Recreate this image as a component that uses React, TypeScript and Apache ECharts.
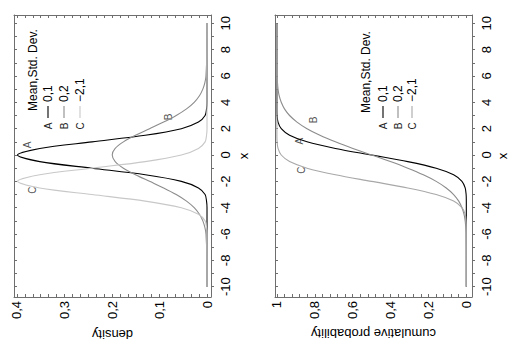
import React, { useEffect, useRef } from 'react';
import * as echarts from 'echarts';

// x positions at which the curves were read
const xValues = [-10, -8, -6, -5.5, -5, -4.5, -4, -3.5, -3, -2.5, -2, -1.5, -1, -0.5, 0, 0.5, 1, 1.5, 2, 2.5, 3, 3.5, 4, 4.5, 5, 5.5, 6, 8, 10];

// density readings: A (0,1), B (0,2), C (-2,1)
const densityA = [0, 0, 0, 0, 0, 0, 0, 0.001, 0.004, 0.018, 0.054, 0.13, 0.242, 0.352, 0.399, 0.352, 0.242, 0.13, 0.054, 0.018, 0.004, 0.001, 0, 0, 0, 0, 0, 0, 0];
const densityB = [0, 0.0001, 0.0022, 0.0045, 0.0088, 0.0159, 0.027, 0.0431, 0.0648, 0.0913, 0.121, 0.1506, 0.176, 0.1933, 0.1995, 0.1933, 0.176, 0.1506, 0.121, 0.0913, 0.0648, 0.0431, 0.027, 0.0159, 0.0088, 0.0045, 0.0022, 0.0001, 0];
const densityC = [0, 0, 0, 0.001, 0.004, 0.018, 0.054, 0.13, 0.242, 0.352, 0.399, 0.352, 0.242, 0.13, 0.054, 0.018, 0.004, 0.001, 0, 0, 0, 0, 0, 0, 0, 0, 0, 0, 0];

// cumulative probability readings
const cumulativeA = [0, 0, 0, 0, 0, 0, 0, 0, 0.001, 0.006, 0.023, 0.067, 0.159, 0.309, 0.5, 0.691, 0.841, 0.933, 0.977, 0.994, 0.999, 1, 1, 1, 1, 1, 1, 1, 1];
const cumulativeB = [0, 0, 0.001, 0.003, 0.006, 0.012, 0.023, 0.04, 0.067, 0.106, 0.159, 0.227, 0.309, 0.401, 0.5, 0.599, 0.691, 0.773, 0.841, 0.894, 0.933, 0.96, 0.977, 0.988, 0.994, 0.997, 0.999, 1, 1];
const cumulativeC = [0, 0, 0, 0, 0.001, 0.006, 0.023, 0.067, 0.159, 0.309, 0.5, 0.691, 0.841, 0.933, 0.977, 0.994, 0.999, 1, 1, 1, 1, 1, 1, 1, 1, 1, 1, 1, 1];

// tick labels
const xTickLabels = [-10, -8, -6, -4, -2, 0, 2, 4, 6, 8, 10];
const densityTickLabels = [0, 0.1, 0.2, 0.3, 0.4];
const cumulativeTickLabels = [0, 0.2, 0.4, 0.6, 0.8, 1];

// legend
const legendTitle = 'Mean,Std. Dev.';
const seriesLetters = ['A', 'B', 'C'];
const seriesParams = ['0,1', '0,2', '\u22122,1'];

// letter label positions [value, x]
const densityLetterPos = [[0.377, 0.76], [0.082, 2.89], [0.368, -2.66]];
const cumulativeLetterPos = [[0.88, 1.06], [0.807, 2.66], [0.87, -1.14]];

const FONT = 'Liberation Sans, Arial, sans-serif';
const AXIS_COLOR = '#6e6e6e';
const densityColors = ['#000000', '#8c8c8c', '#c8c8c8'];
const cumulativeColors = ['#000000', '#8c8c8c', '#a8a8a8'];

const range = (start: number, end: number, step: number) => {
  const out: number[] = [];
  for (let v = start; v <= end + 1e-9; v += step) out.push(Math.round(v * 10000) / 10000);
  return out;
};
const xMinorTicks = range(-10, 10, 1);
const densityMinorTicks = range(0, 0.4, 1 / 60);
const cumulativeMinorTicks = range(0, 1, 0.04);

const fmtComma = (v: number) => {
  if (v === 0) return '0';
  if (v === 1) return '1';
  return String(+v.toFixed(1)).replace('.', ',');
};

function valueAxisBottom(gridIndex: number, min: number, max: number, labels: number[], ticks: number[], name: string, nameGap: number) {
  return {
    gridIndex, type: 'value', position: 'bottom', inverse: true, min, max,
    axisLine: { show: true, onZero: false, lineStyle: { color: AXIS_COLOR, width: 1 } },
    axisTick: { show: true, inside: true, length: 3, customValues: ticks, lineStyle: { color: AXIS_COLOR } },
    axisLabel: { show: true, customValues: labels, rotate: 90, margin: 4, fontSize: 13, color: '#000', fontFamily: FONT, formatter: fmtComma },
    splitLine: { show: false },
    name, nameLocation: 'middle', nameGap, nameRotate: 180,
    nameTextStyle: { fontSize: 13, color: '#000', fontFamily: FONT },
  };
}
function valueAxisTop(gridIndex: number, min: number, max: number, ticks: number[]) {
  return {
    gridIndex, type: 'value', position: 'top', inverse: true, min, max,
    axisLine: { show: true, onZero: false, lineStyle: { color: AXIS_COLOR, width: 1 } },
    axisTick: { show: true, inside: true, length: 3, customValues: ticks, lineStyle: { color: AXIS_COLOR } },
    axisLabel: { show: false },
    splitLine: { show: false },
  };
}
function xAxisRight(gridIndex: number, min: number, max: number, nameGap: number) {
  return {
    gridIndex, type: 'value', position: 'right', min, max,
    axisLine: { show: true, onZero: false, lineStyle: { color: AXIS_COLOR, width: 1 } },
    axisTick: { show: true, inside: false, length: 3, customValues: xMinorTicks, lineStyle: { color: AXIS_COLOR } },
    axisLabel: { show: true, customValues: xTickLabels, rotate: 90, margin: 8, fontSize: 13, color: '#000', fontFamily: FONT, formatter: (v: number) => String(v) },
    splitLine: { show: false },
    name: 'x', nameLocation: 'middle', nameGap, nameRotate: 90,
    nameTextStyle: { fontSize: 13, color: '#000', fontFamily: FONT },
  };
}
function xAxisLeft(gridIndex: number, min: number, max: number) {
  return {
    gridIndex, type: 'value', position: 'left', min, max,
    axisLine: { show: true, onZero: false, lineStyle: { color: AXIS_COLOR, width: 1 } },
    axisTick: { show: true, inside: true, length: 3, customValues: xMinorTicks, lineStyle: { color: AXIS_COLOR } },
    axisLabel: { show: false },
    splitLine: { show: false },
  };
}

function curve(values: number[], color: string, xAxisIndex: number, yAxisIndex: number, width: number) {
  return {
    type: 'line', xAxisIndex, yAxisIndex, silent: true,
    data: xValues.map((x, i) => [values[i], x]),
    showSymbol: false, smooth: 0.3,
    lineStyle: { color, width },
  };
}
function letters(pos: number[][], xAxisIndex: number, yAxisIndex: number) {
  return {
    type: 'scatter', xAxisIndex, yAxisIndex, silent: true,
    data: pos.map((p) => [p[0], p[1]]),
    symbolSize: 1, itemStyle: { color: 'rgba(0,0,0,0)' },
    label: { show: true, position: 'inside', rotate: 90, fontSize: 10, color: '#1e1e1e', fontFamily: FONT, formatter: (p: any) => seriesLetters[p.dataIndex] },
  };
}

function legend(titleX: number, titleY: number, rowX: number[], colors: string[]) {
  const els: any[] = [{
    type: 'text', x: titleX, y: titleY, rotation: Math.PI / 2,
    style: { text: legendTitle, align: 'center', verticalAlign: 'middle', fontSize: 12, fill: '#000', fontFamily: FONT },
  }];
  rowX.forEach((x, i) => {
    els.push({
      type: 'text', x, y: 126, rotation: Math.PI / 2,
      style: { text: seriesLetters[i], align: 'center', verticalAlign: 'middle', fontSize: 10, fill: '#1e1e1e', fontFamily: FONT },
    });
    els.push({
      type: 'line', shape: { x1: x, y1: 118, x2: x, y2: 106 },
      style: { stroke: colors[i], lineWidth: 1.1 },
    });
    els.push({
      type: 'text', x, y: 102, rotation: Math.PI / 2,
      style: { text: seriesParams[i], align: 'left', verticalAlign: 'middle', fontSize: 12, fill: '#000', fontFamily: FONT },
    });
  });
  return els;
}

const X_MIN = -10.78;
const X_MAX = 10.63;

const option: any = {
  animation: false,
  backgroundColor: '#ffffff',
  textStyle: { fontFamily: FONT },
  grid: [
    { left: 14, top: 15, width: 197, height: 282 },
    { left: 275, top: 15, width: 198, height: 282 },
  ],
  xAxis: [
    valueAxisBottom(0, -0.0084, 0.4063, densityTickLabels, densityMinorTicks, 'density', 31),
    valueAxisTop(0, -0.0084, 0.4063, densityMinorTicks),
    valueAxisBottom(1, -0.03, 1.01, cumulativeTickLabels, cumulativeMinorTicks, 'cumulative probability', 28),
    valueAxisTop(1, -0.03, 1.01, cumulativeMinorTicks),
  ],
  yAxis: [
    xAxisRight(0, X_MIN, X_MAX, 26),
    xAxisLeft(0, X_MIN, X_MAX),
    xAxisRight(1, X_MIN, X_MAX, 24),
    xAxisLeft(1, X_MIN, X_MAX),
  ],
  series: [
    curve(densityA, densityColors[0], 0, 0, 1.1),
    curve(densityB, densityColors[1], 0, 0, 1.1),
    curve(densityC, densityColors[2], 0, 0, 1.1),
    letters(densityLetterPos, 0, 0),
    curve(cumulativeA, cumulativeColors[0], 2, 2, 1.1),
    curve(cumulativeB, cumulativeColors[1], 2, 2, 1.1),
    curve(cumulativeC, cumulativeColors[2], 2, 2, 1.1),
    letters(cumulativeLetterPos, 2, 2),
  ],
  graphic: [
    ...legend(33, 70, [48, 64, 80], densityColors),
    ...legend(366, 72, [383, 398, 412], cumulativeColors),
  ],
};

export default function App() {
  const ref = useRef<HTMLDivElement>(null);
  useEffect(() => {
    if (!ref.current) return;
    const chart = echarts.init(ref.current, null, { renderer: 'svg' });
    chart.setOption(option);
    return () => chart.dispose();
  }, []);
  return (
    <div
      ref={ref}
      style={{ position: 'fixed', left: 0, top: 0, width: 510, height: 360, background: '#fff' }}
    />
  );
}
